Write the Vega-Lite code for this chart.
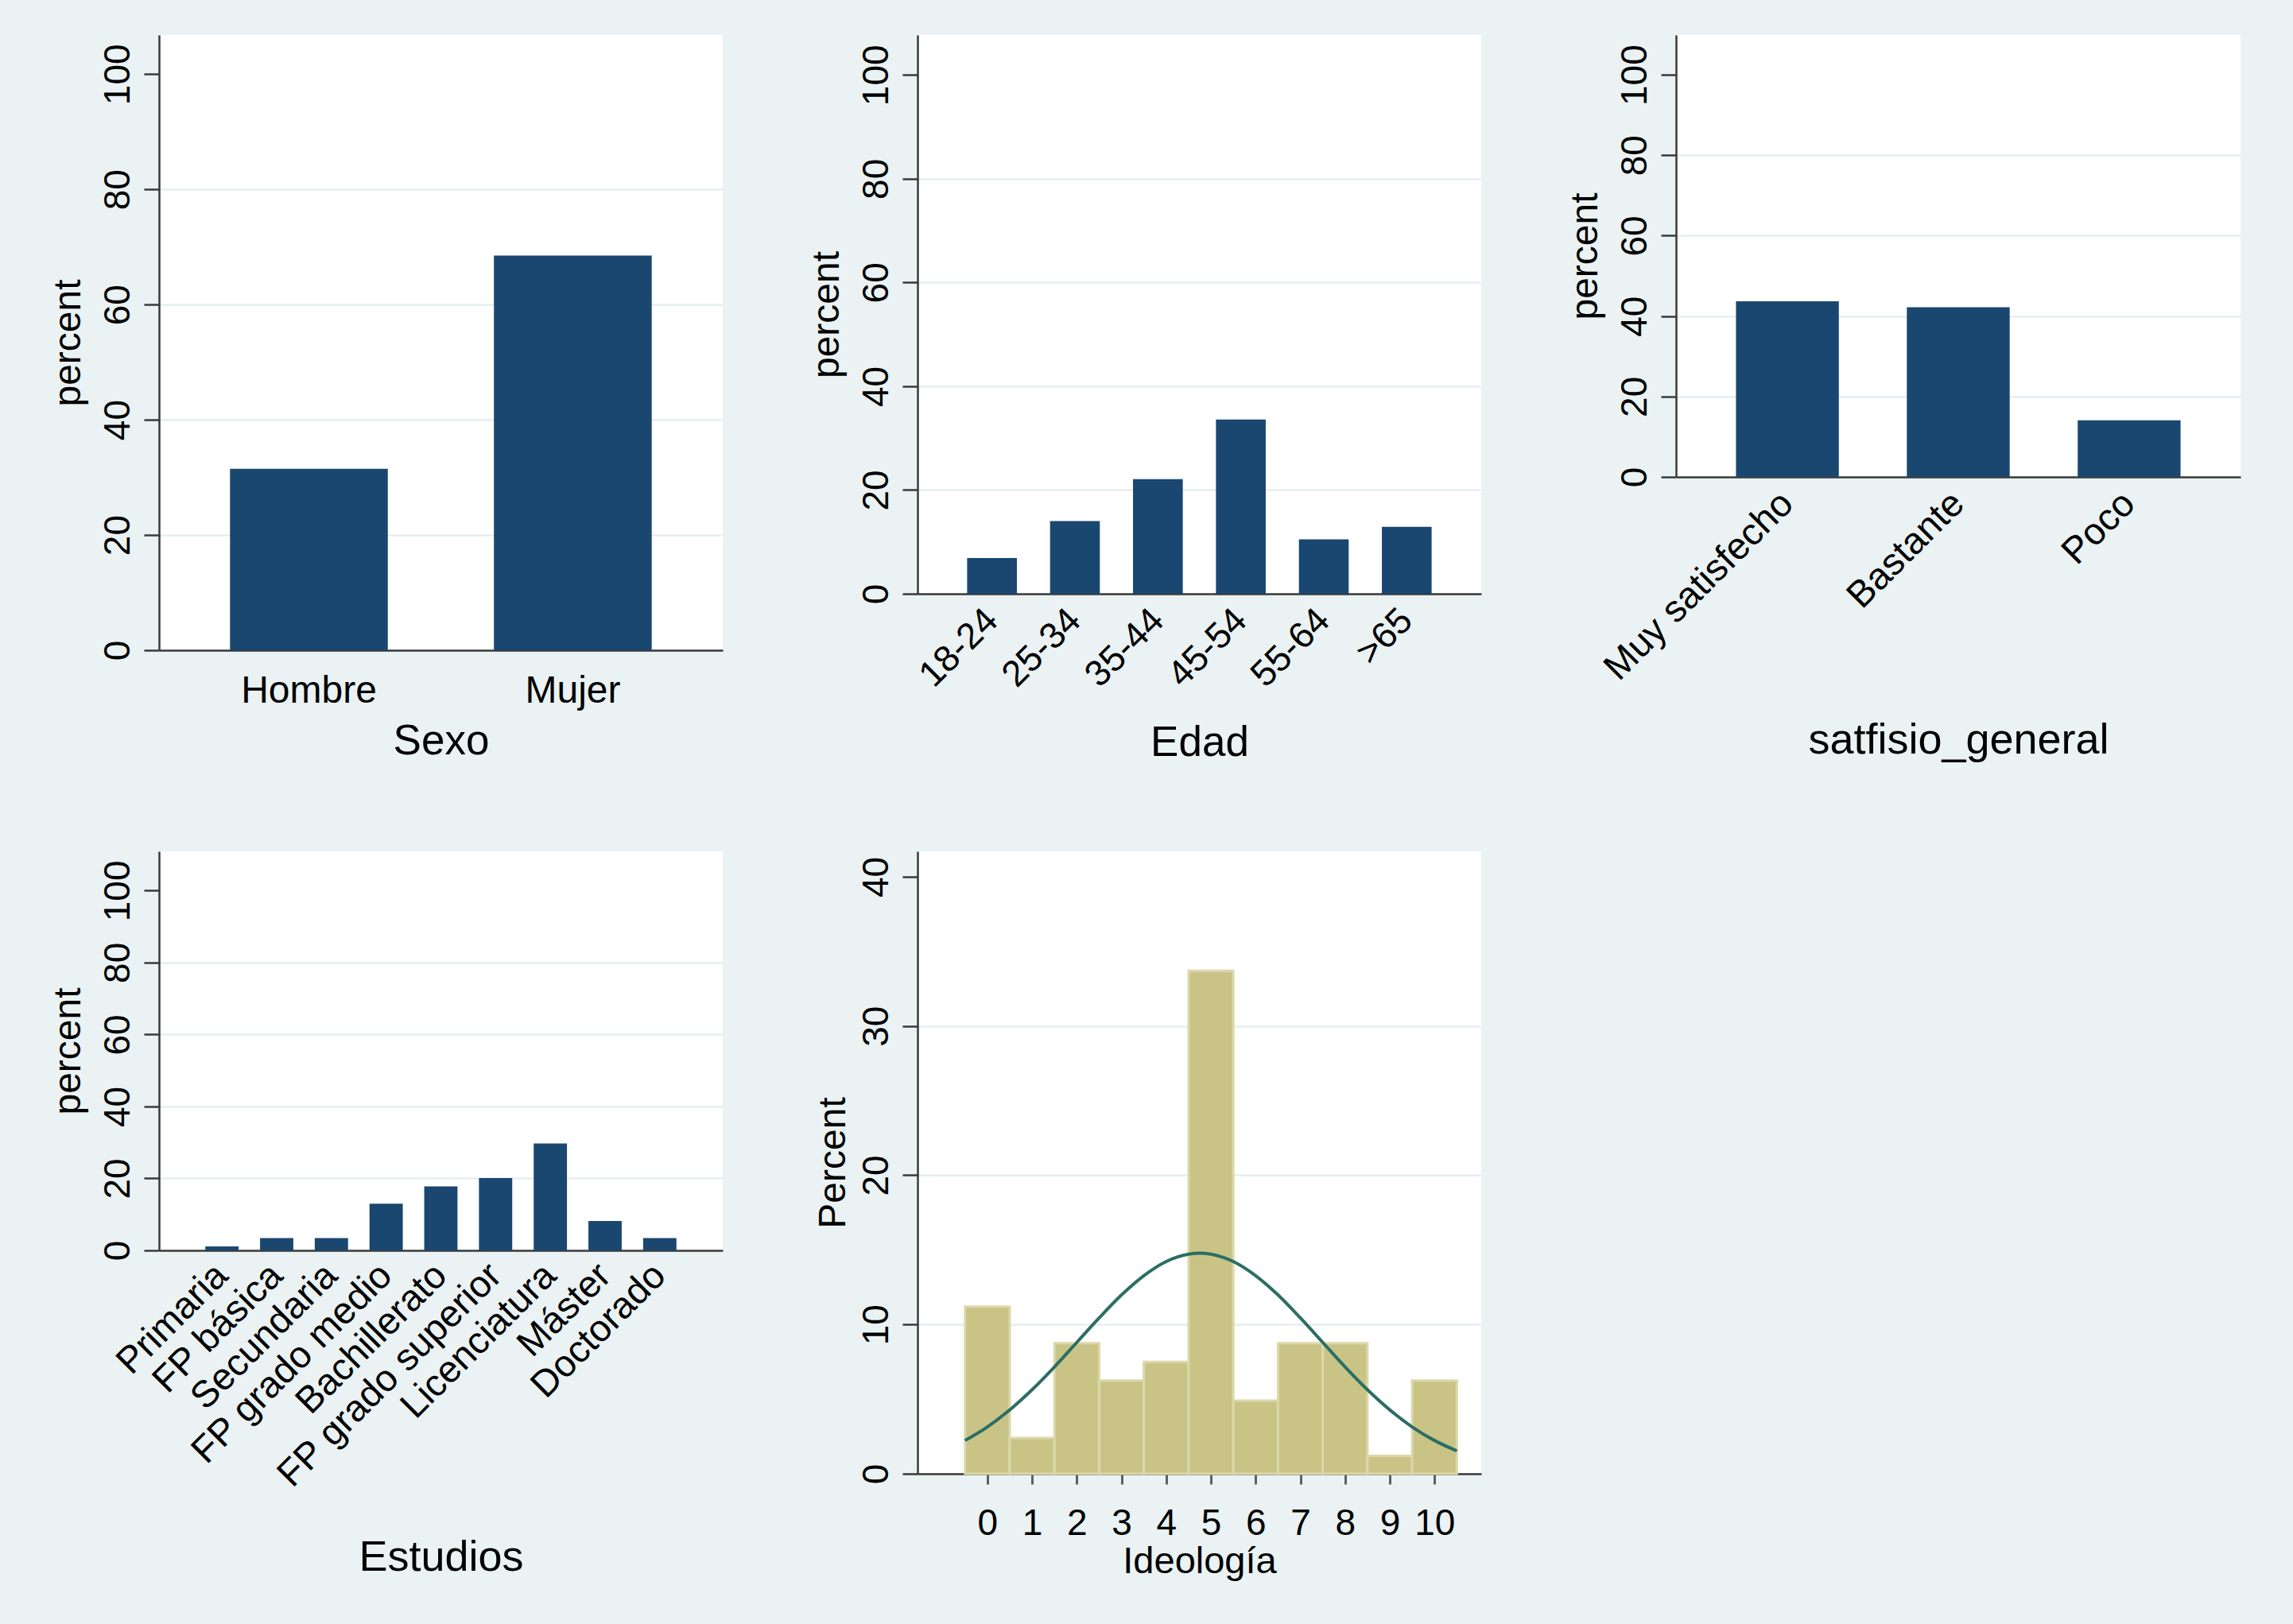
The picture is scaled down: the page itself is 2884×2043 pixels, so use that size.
{
  "$schema": "https://vega.github.io/schema/vega-lite/v6.json",
  "background": "#eaf2f3",
  "padding": {"left": 62, "top": 44, "right": 66, "bottom": 56},
  "columns": 3,
  "bounds": "flush",
  "spacing": {"row": 253, "column": 245},
  "config": {
    "font": "Liberation Sans",
    "view": {"fill": "white", "stroke": null},
    "axis": {
      "domainColor": "#3a3a3a", "domainWidth": 2.5,
      "tickColor": "#3a3a3a", "tickWidth": 2.5,
      "labelColor": "#000000", "titleColor": "#000000",
      "titleFontWeight": "normal",
      "gridColor": "#e6eef0", "gridWidth": 2.5,
      "labelOverlap": false, "labelFlush": false, "labelLimit": 0
    }
  },
  "concat": [
    {
      "width": 709, "height": 774,
      "data": {"values": [
        {"Sexo": "Hombre", "percent": 31.5},
        {"Sexo": "Mujer", "percent": 68.5}
      ]},
      "mark": {"type": "bar", "color": "#1a476f"},
      "encoding": {
        "x": {"field": "Sexo", "type": "nominal", "sort": null,
          "scale": {"paddingInner": 0.402, "paddingOuter": 0.269},
          "axis": {"labelAngle": 0, "ticks": false, "tickSize": 0, "labelPadding": 27, "labelFontSize": 48, "labelBaseline": "top", "title": "Sexo", "titleFontSize": 53, "titleY": 130, "titleBaseline": "alphabetic"}},
        "y": {"field": "percent", "type": "quantitative",
          "scale": {"domain": [0, 106.8], "nice": false},
          "axis": {"values": [0, 20, 40, 60, 80, 100], "title": "percent", "titleFontSize": 48, "titleX": -100, "titleBaseline": "alphabetic", "labelAngle": -90, "labelAlign": "center", "labelBaseline": "alphabetic", "labelPadding": 19, "labelFontSize": 46, "tickSize": 19, "grid": true, "gridOpacity": {"condition": {"test": "datum.value >= 100", "value": 0}, "value": 1}}}
      }
    },
    {
      "width": 709, "height": 703,
      "data": {"values": [
        {"Edad": "18-24", "percent": 6.9},
        {"Edad": "25-34", "percent": 14.0},
        {"Edad": "35-44", "percent": 22.1},
        {"Edad": "45-54", "percent": 33.6},
        {"Edad": "55-64", "percent": 10.5},
        {"Edad": ">65", "percent": 12.9}
      ]},
      "mark": {"type": "bar", "color": "#1a476f"},
      "encoding": {
        "x": {"field": "Edad", "type": "nominal", "sort": null,
          "scale": {"paddingInner": 0.4, "paddingOuter": 0.598},
          "axis": {"labelAngle": -45, "labelAlign": "right", "labelBaseline": "middle", "ticks": false, "tickSize": 0, "labelPadding": 26, "labelFontSize": 46, "title": "Edad", "titleFontSize": 53, "titleY": 203, "titleBaseline": "alphabetic"}},
        "y": {"field": "percent", "type": "quantitative",
          "scale": {"domain": [0, 107.7], "nice": false},
          "axis": {"values": [0, 20, 40, 60, 80, 100], "title": "percent", "titleFontSize": 48, "titleX": -100, "titleBaseline": "alphabetic", "labelAngle": -90, "labelAlign": "center", "labelBaseline": "alphabetic", "labelPadding": 19, "labelFontSize": 46, "tickSize": 19, "grid": true, "gridOpacity": {"condition": {"test": "datum.value >= 100", "value": 0}, "value": 1}}}
      }
    },
    {
      "width": 710, "height": 556,
      "data": {"values": [
        {"satfisio_general": "Muy satisfecho", "percent": 43.7},
        {"satfisio_general": "Bastante", "percent": 42.2},
        {"satfisio_general": "Poco", "percent": 14.1}
      ]},
      "mark": {"type": "bar", "color": "#1a476f"},
      "encoding": {
        "x": {"field": "satfisio_general", "type": "nominal", "sort": null,
          "scale": {"paddingInner": 0.398, "paddingOuter": 0.351},
          "axis": {"labelAngle": -45, "labelAlign": "right", "labelBaseline": "middle", "ticks": false, "tickSize": 0, "labelPadding": 26, "labelFontSize": 47, "title": "satfisio_general", "titleFontSize": 54, "titleY": 347, "titleBaseline": "alphabetic"}},
        "y": {"field": "percent", "type": "quantitative",
          "scale": {"domain": [0, 109.9], "nice": false},
          "axis": {"values": [0, 20, 40, 60, 80, 100], "title": "percent", "titleFontSize": 48, "titleX": -100, "titleBaseline": "alphabetic", "labelAngle": -90, "labelAlign": "center", "labelBaseline": "alphabetic", "labelPadding": 19, "labelFontSize": 46, "tickSize": 19, "grid": true, "gridOpacity": {"condition": {"test": "datum.value >= 100", "value": 0}, "value": 1}}}
      }
    },
    {
      "width": 709, "height": 502,
      "data": {"values": [
        {"Estudios": "Primaria", "percent": 1.1},
        {"Estudios": "FP básica", "percent": 3.4},
        {"Estudios": "Secundaria", "percent": 3.4},
        {"Estudios": "FP grado medio", "percent": 13.0},
        {"Estudios": "Bachillerato", "percent": 17.8},
        {"Estudios": "FP grado superior", "percent": 20.1},
        {"Estudios": "Licenciatura", "percent": 29.7},
        {"Estudios": "Máster", "percent": 8.2},
        {"Estudios": "Doctorado", "percent": 3.4}
      ]},
      "mark": {"type": "bar", "color": "#1a476f"},
      "encoding": {
        "x": {"field": "Estudios", "type": "nominal", "sort": null,
          "scale": {"paddingInner": 0.392, "paddingOuter": 0.846},
          "axis": {"labelAngle": -45, "labelAlign": "right", "labelBaseline": "middle", "ticks": false, "tickSize": 0, "labelPadding": 24, "labelFontSize": 47, "title": "Estudios", "titleFontSize": 54, "titleY": 402, "titleBaseline": "alphabetic"}},
        "y": {"field": "percent", "type": "quantitative",
          "scale": {"domain": [0, 110.9], "nice": false},
          "axis": {"values": [0, 20, 40, 60, 80, 100], "title": "percent", "titleFontSize": 48, "titleX": -100, "titleBaseline": "alphabetic", "labelAngle": -90, "labelAlign": "center", "labelBaseline": "alphabetic", "labelPadding": 19, "labelFontSize": 46, "tickSize": 19, "grid": true, "gridOpacity": {"condition": {"test": "datum.value >= 100", "value": 0}, "value": 1}}}
      }
    },
    {
      "width": 709, "height": 783,
      "layer": [
        {
          "data": {"values": [
            {"lo": -0.5, "hi": 0.5, "percent": 11.2},
            {"lo": 0.5, "hi": 1.5, "percent": 2.4},
            {"lo": 1.5, "hi": 2.5, "percent": 8.75},
            {"lo": 2.5, "hi": 3.5, "percent": 6.25},
            {"lo": 3.5, "hi": 4.5, "percent": 7.5},
            {"lo": 4.5, "hi": 5.5, "percent": 33.7},
            {"lo": 5.5, "hi": 6.5, "percent": 4.9},
            {"lo": 6.5, "hi": 7.5, "percent": 8.75},
            {"lo": 7.5, "hi": 8.5, "percent": 8.75},
            {"lo": 8.5, "hi": 9.5, "percent": 1.2},
            {"lo": 9.5, "hi": 10.5, "percent": 6.25}
          ]},
          "mark": {"type": "bar", "fill": "#c9c486", "stroke": "#dcd8ac", "strokeWidth": 3},
          "encoding": {
            "x": {"field": "lo", "type": "quantitative",
              "scale": {"domain": [-1.5625, 11.045], "nice": false, "zero": false},
              "axis": {"values": [0, 1, 2, 3, 4, 5, 6, 7, 8, 9, 10], "format": "d", "labelAngle": 0, "tickSize": 13, "tickColor": "#606060", "tickWidth": 3, "labelPadding": 63, "labelBaseline": "alphabetic", "labelFontSize": 46, "title": "Ideología", "titleFontSize": 47, "titleY": 124, "titleBaseline": "alphabetic", "grid": false}},
            "x2": {"field": "hi"},
            "y": {"field": "percent", "type": "quantitative",
              "scale": {"domain": [0, 41.7], "nice": false},
              "axis": {"values": [0, 10, 20, 30, 40], "title": "Percent", "titleFontSize": 48, "titleX": -92, "titleBaseline": "alphabetic", "labelAngle": -90, "labelAlign": "center", "labelBaseline": "alphabetic", "labelPadding": 19, "labelFontSize": 46, "tickSize": 19, "grid": true, "gridOpacity": {"condition": {"test": "datum.value >= 40", "value": 0}, "value": 1}}},
            "y2": {"datum": 0}
          }
        },
        {
          "data": {"values": [
            {"x": -0.5, "density": 2.23},
            {"x": 0, "density": 3.14},
            {"x": 0.5, "density": 4.28},
            {"x": 1, "density": 5.63},
            {"x": 1.5, "density": 7.16},
            {"x": 2, "density": 8.8},
            {"x": 2.5, "density": 10.44},
            {"x": 3, "density": 11.98},
            {"x": 3.5, "density": 13.27},
            {"x": 4, "density": 14.22},
            {"x": 4.5, "density": 14.71},
            {"x": 4.75, "density": 14.78},
            {"x": 5, "density": 14.71},
            {"x": 5.5, "density": 14.22},
            {"x": 6, "density": 13.27},
            {"x": 6.5, "density": 11.98},
            {"x": 7, "density": 10.44},
            {"x": 7.5, "density": 8.8},
            {"x": 8, "density": 7.16},
            {"x": 8.5, "density": 5.63},
            {"x": 9, "density": 4.28},
            {"x": 9.5, "density": 3.14},
            {"x": 10, "density": 2.23},
            {"x": 10.5, "density": 1.53}
          ]},
          "mark": {"type": "line", "color": "#2c6e63", "strokeWidth": 4, "interpolate": "monotone"},
          "encoding": {
            "x": {"field": "x", "type": "quantitative"},
            "y": {"field": "density", "type": "quantitative"}
          }
        }
      ]
    }
  ]
}
